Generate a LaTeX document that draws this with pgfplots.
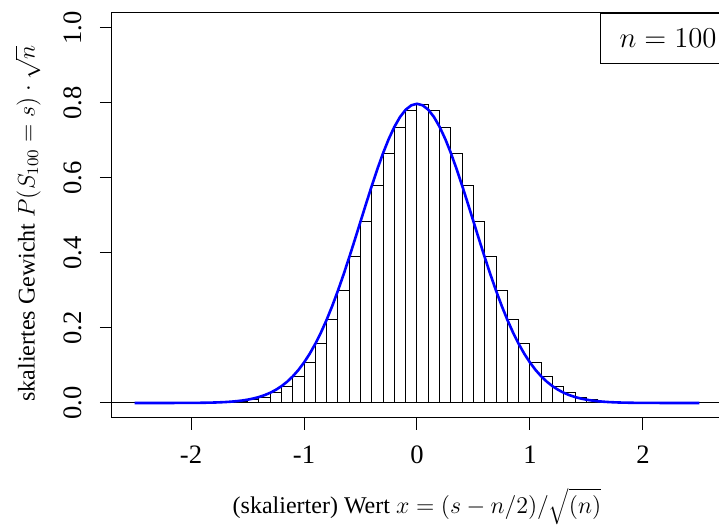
\documentclass[border=0pt]{standalone}
\usepackage[no-math]{fontspec}
\setmainfont{Liberation Serif}
\usepackage{pgfplots}
\pgfplotsset{compat=1.18}
\begin{document}
\fontsize{13.3}{16}\selectfont
\begin{tikzpicture}
\useasboundingbox (0,0) rectangle (359.5pt,262.5pt);
\begin{axis}[
  at={(56pt,53.5pt)}, anchor=south west,
  scale only axis, width=305pt, height=202.5pt,
  xmin=-2.7, xmax=2.7, ymin=-0.04, ymax=1.04,
  xtick={-2,-1,0,1,2}, xticklabels={-2,-1,0,1,2},
  ytick={0,0.2,0.4,0.6,0.8,1.0}, yticklabels={0.0,0.2,0.4,0.6,0.8,1.0},
  tick align=outside, xtick pos=left, ytick pos=left,
  major tick length=6pt,
  every tick/.style={black, line width=0.5pt},
  axis line style={line width=0.5pt},
  xticklabel style={yshift=-17pt, anchor=base},
  yticklabel style={xshift=-9pt, rotate=90, anchor=base},
  every axis x label/.style={at={(axis description cs:0.5,-0.237)}, anchor=base, font=\fontsize{12}{14}\selectfont},
  every axis y label/.style={at={(axis description cs:-0.127,0.48)}, rotate=90, anchor=base, font=\fontsize{12}{14}\selectfont},
  xlabel={(skalierter) Wert $x = (s - n/2)/\sqrt{(n)}$},
  ylabel={skaliertes Gewicht $P(S_{100} = s)\cdot\sqrt{n}$},
]
\addplot[black, line width=0.5pt] coordinates {(-2.7,0) (2.7,0)};
\addplot[ybar interval, draw=black, fill=white, line width=0.5pt] coordinates {
(-2.0,0.0002) (-1.9,0.0005) (-1.8,0.0011) (-1.7,0.0023) (-1.6,0.0046)
(-1.5,0.0086) (-1.4,0.0156) (-1.3,0.0270) (-1.2,0.0447) (-1.1,0.0711)
(-1.0,0.1084) (-0.9,0.1587) (-0.8,0.2229) (-0.7,0.3007) (-0.6,0.3895)
(-0.5,0.4847) (-0.4,0.5796) (-0.3,0.6659) (-0.2,0.7353) (-0.1,0.7803)
(0.0,0.7959) (0.1,0.7803) (0.2,0.7353) (0.3,0.6659) (0.4,0.5796)
(0.5,0.4847) (0.6,0.3895) (0.7,0.3007) (0.8,0.2229) (0.9,0.1587)
(1.0,0.1084) (1.1,0.0711) (1.2,0.0447) (1.3,0.0270) (1.4,0.0156)
(1.5,0.0086) (1.6,0.0046) (1.7,0.0023) (1.8,0.0011) (1.9,0.0005)
(2.0,0.0002) (2.1,0)
};
\addplot[blue, line width=1.3pt] coordinates {
(-2.5,0.000003) (-2.25,0.00003) (-2.0,0.00027) (-1.9,0.00058) (-1.8,0.00122)
(-1.75,0.00175) (-1.7,0.00246) (-1.65,0.00345) (-1.6,0.00477) (-1.55,0.00653)
(-1.5,0.00886) (-1.45,0.01191) (-1.4,0.01583) (-1.35,0.02084) (-1.3,0.02717)
(-1.25,0.03506) (-1.2,0.04479) (-1.15,0.05665) (-1.1,0.07095) (-1.05,0.08798)
(-1.0,0.10798) (-0.95,0.13121) (-0.9,0.15790) (-0.85,0.18810) (-0.8,0.22184)
(-0.75,0.25903) (-0.7,0.29946) (-0.65,0.34274) (-0.6,0.38837) (-0.55,0.43570)
(-0.5,0.48394) (-0.45,0.53216) (-0.4,0.57938) (-0.35,0.62451) (-0.3,0.66645)
(-0.25,0.70413) (-0.2,0.73654) (-0.15,0.76278) (-0.1,0.78209) (-0.05,0.79391)
(0,0.79788)
(0.05,0.79391) (0.1,0.78209) (0.15,0.76278) (0.2,0.73654) (0.25,0.70413)
(0.3,0.66645) (0.35,0.62451) (0.4,0.57938) (0.45,0.53216) (0.5,0.48394)
(0.55,0.43570) (0.6,0.38837) (0.65,0.34274) (0.7,0.29946) (0.75,0.25903)
(0.8,0.22184) (0.85,0.18810) (0.9,0.15790) (0.95,0.13121) (1.0,0.10798)
(1.05,0.08798) (1.1,0.07095) (1.15,0.05665) (1.2,0.04479) (1.25,0.03506)
(1.3,0.02717) (1.35,0.02084) (1.4,0.01583) (1.45,0.01191) (1.5,0.00886)
(1.55,0.00653) (1.6,0.00477) (1.65,0.00345) (1.7,0.00246) (1.75,0.00175)
(1.8,0.00122) (1.9,0.00058) (2.0,0.00027) (2.25,0.00003) (2.5,0.000003)
};
\node[draw, line width=0.5pt, fill=white, anchor=north east, minimum width=60.5pt, minimum height=25pt, inner sep=0pt] at (rel axis cs:1,1) {};
\node[xshift=-2.5pt, yshift=-12.5pt, anchor=east, inner sep=0pt] at (rel axis cs:1,1) {$n = 100$};
\end{axis}
\end{tikzpicture}
\end{document}
